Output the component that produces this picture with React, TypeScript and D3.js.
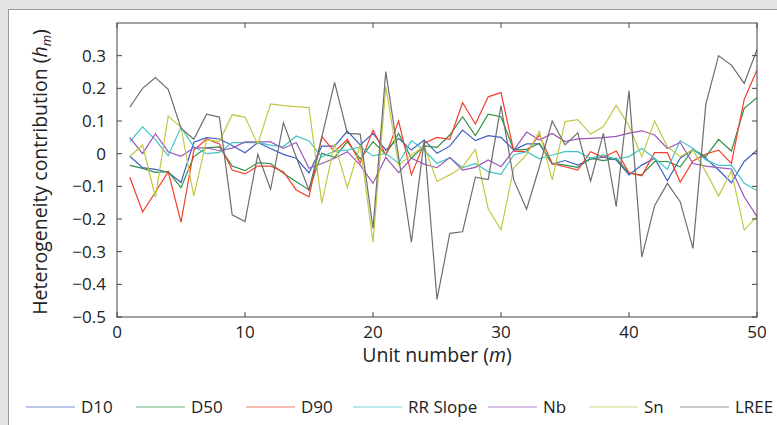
import React from "react";
import * as d3 from "d3";

const units = [1,2,3,4,5,6,7,8,9,10,11,12,13,14,15,16,17,18,19,20,21,22,23,24,25,26,27,28,29,30,31,32,33,34,35,36,37,38,39,40,41,42,43,44,45,46,47,48,49,50];

const D10 = [-0.008,-0.043,-0.048,-0.057,-0.088,0.035,0.049,0.045,0.025,0.003,0.034,0.016,-0.002,-0.014,-0.059,0.023,0.023,0.069,0.027,0.062,0.011,0.047,0.011,0.042,0.001,0.023,0.072,0.04,0.055,0.05,0.011,0.03,0.03,-0.032,-0.021,-0.035,-0.017,-0.011,-0.019,-0.065,-0.035,-0.014,-0.083,-0.014,0.013,-0.014,-0.05,-0.089,-0.024,0.011];
const D50 = [-0.036,-0.045,-0.057,-0.055,-0.104,-0.009,0.018,0.021,-0.038,-0.052,-0.028,-0.03,-0.06,-0.086,-0.111,0.001,-0.011,0.037,-0.016,0.037,-0.002,0.062,-0.014,0.024,0.019,0.057,0.113,0.055,0.121,0.113,0.011,0.013,0.032,-0.03,-0.035,-0.042,-0.014,-0.021,-0.014,-0.06,-0.065,-0.024,-0.024,-0.04,0.013,-0.009,0.044,0.008,0.139,0.171];
const D90 = [-0.072,-0.178,-0.118,-0.055,-0.21,0.01,0.045,0.03,-0.05,-0.062,-0.038,-0.038,-0.055,-0.111,-0.132,0.052,0.006,0.044,-0.028,0.072,-0.004,0.1,-0.065,0.032,0.05,0.044,0.156,0.091,0.174,0.187,0.008,0.006,0.057,-0.03,-0.04,-0.05,0.006,-0.011,0.008,-0.058,-0.068,0.003,0.003,-0.087,-0.022,-0.001,0.011,-0.03,0.166,0.256];
const RRSlope = [0.037,0.082,0.042,-0.006,0.081,0.021,0.0,0.004,0.034,0.034,0.034,0.026,0.021,0.054,0.039,-0.01,0.008,0.011,0.021,-0.007,0.001,-0.03,0.04,0.011,-0.03,-0.012,-0.043,-0.03,-0.055,-0.063,-0.004,0.006,-0.016,-0.004,0.006,0.006,-0.014,-0.004,-0.017,-0.009,0.016,-0.014,-0.048,0.04,0.016,-0.019,-0.036,-0.036,-0.091,-0.113];
const Nb = [0.049,0.0,0.061,0.006,-0.008,0.018,0.018,0.009,0.017,0.036,0.036,0.036,0.016,0.034,-0.045,-0.03,-0.014,0.006,-0.035,-0.091,-0.011,-0.058,-0.014,-0.032,-0.043,-0.012,-0.05,-0.042,-0.019,-0.04,0.011,0.066,0.042,0.062,0.037,0.045,0.047,0.049,0.053,0.063,0.07,0.057,0.016,0.034,-0.03,-0.038,-0.043,-0.047,-0.132,-0.193];
const Sn = [-0.008,0.026,-0.134,0.115,0.081,-0.13,0.042,0.038,0.119,0.112,0.029,0.152,0.147,0.144,0.141,-0.152,0.03,-0.104,0.027,-0.271,0.205,-0.035,-0.004,0.023,-0.085,-0.065,-0.04,0.013,-0.169,-0.233,-0.043,-0.003,0.068,-0.08,0.098,0.104,0.06,0.083,0.148,0.085,-0.009,0.1,0.021,-0.009,0.011,-0.055,-0.13,-0.053,-0.234,-0.191];
const LREE = [0.142,0.2,0.233,0.197,0.078,0.044,0.121,0.112,-0.187,-0.208,-0.002,-0.109,0.095,-0.01,-0.112,0.05,0.218,0.062,0.06,-0.229,0.251,-0.01,-0.271,0.04,-0.446,-0.244,-0.239,-0.072,-0.079,0.146,-0.081,-0.17,-0.04,0.1,0.027,0.064,-0.084,0.062,-0.162,0.193,-0.317,-0.159,-0.091,-0.147,-0.29,0.151,0.3,0.271,0.215,0.319];

const seriesNames = ["D10", "D50", "D90", "RR Slope", "Nb", "Sn", "LREE"];
const seriesValues = [D10, D50, D90, RRSlope, Nb, Sn, LREE];
const seriesColors = ["#3d5fc4", "#2f8f45", "#f4402c", "#3fc6c6", "#9b56b9", "#c3c843", "#6e6e6e"];

const xTicks = [0, 10, 20, 30, 40, 50];
const yTicks = [-0.5, -0.4, -0.3, -0.2, -0.1, 0, 0.1, 0.2, 0.3];

const W = 777, H = 425;
const L = 117, R = 757, T = 23, B = 317;
const FONT = "'Open Sans', 'Noto Sans', sans-serif";

export default function App() {
  const x = d3.scaleLinear().domain([0, 50]).range([L, R]);
  const y = d3.scaleLinear().domain([-0.5, 0.4]).range([B, T]);
  const line = d3.line<number>().x((_, i) => x(units[i])).y((v) => y(v));
  const fmtY = (v: number) => (Math.abs(v) < 1e-9 ? "0" : (v < 0 ? "\u2212" : "") + Math.abs(v).toFixed(1));

  const legendLineX = [26, 136, 246, 353, 488, 589, 680];
  const legendY = 407;

  return (
    <svg width={W} height={H} style={{ position: "absolute", left: 0, top: 0 }} fontFamily={FONT}>
      <rect x={0} y={0} width={W} height={H} fill="#e4e4e4" />
      <rect x={8.5} y={9.5} width={W} height={H} fill="#ffffff" stroke="#9a9a9a" />
      <defs>
        <clipPath id="plotclip">
          <rect x={L} y={T} width={R - L} height={B - T} />
        </clipPath>
      </defs>
      <g clipPath="url(#plotclip)">
        {seriesValues.map((vals, si) => (
          <path key={si} d={line(vals) || ""} fill="none" stroke={seriesColors[si]} strokeWidth={1.2} strokeLinejoin="miter" />
        ))}
      </g>
      <rect x={L} y={T} width={R - L} height={B - T} fill="none" stroke="#444" strokeWidth={1} />
      {xTicks.map((t) => (
        <g key={"x" + t}>
          <line x1={x(t)} x2={x(t)} y1={B} y2={B - 5} stroke="#444" />
          <line x1={x(t)} x2={x(t)} y1={T} y2={T + 5} stroke="#444" />
          <text x={x(t)} y={338} textAnchor="middle" fontSize={17} fill="#222">{t}</text>
        </g>
      ))}
      {yTicks.map((t) => (
        <g key={"y" + t}>
          <line x1={L} x2={L + 5} y1={y(t)} y2={y(t)} stroke="#444" />
          <line x1={R} x2={R - 5} y1={y(t)} y2={y(t)} stroke="#444" />
          <text x={106} y={y(t) + 6} textAnchor="end" fontSize={17} fill="#222">{fmtY(t)}</text>
        </g>
      ))}
      <text x={(L + R) / 2} y={362} textAnchor="middle" fontSize={19.5} fill="#222">
        Unit number (<tspan fontStyle="italic">m</tspan>)
      </text>
      <text transform={`translate(47, ${(T + B) / 2 + 2}) rotate(-90)`} textAnchor="middle" fontSize={19.5} fill="#222">
        Heterogeneity contribution (<tspan fontStyle="italic">h</tspan><tspan fontStyle="italic" fontSize={13} dy={4}>m</tspan><tspan dy={-4}>)</tspan>
      </text>
      {seriesNames.map((n, i) => (
        <g key={n}>
          <line x1={legendLineX[i]} x2={legendLineX[i] + 49} y1={legendY} y2={legendY} stroke={seriesColors[i]} strokeWidth={1.2} opacity={0.7} />
          <text x={legendLineX[i] + 55} y={legendY + 6} fontSize={17} fill="#222">{n}</text>
        </g>
      ))}
    </svg>
  );
}
